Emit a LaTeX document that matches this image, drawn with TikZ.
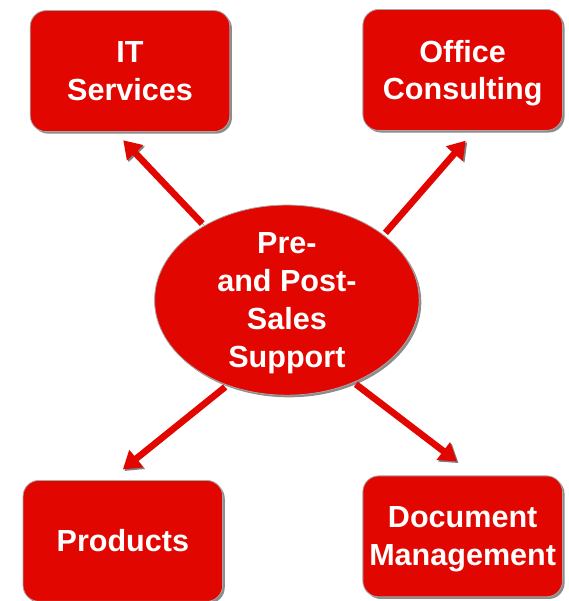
\documentclass[tikz,border=0pt]{standalone}
\usepackage{fontspec}
\setmainfont{Liberation Sans}
\usetikzlibrary{arrows.meta,shapes.geometric,shadows}
\definecolor{signal}{RGB}{225,6,0}
\definecolor{smoke}{RGB}{128,128,128}

\begin{document}
\begin{tikzpicture}[
    blob/.style={fill=signal,draw=smoke!70,line width=0.6pt,text=white,
      font=\fontsize{23}{28.5}\selectfont\bfseries,align=center,inner sep=2pt,
      text depth=-8pt,
      drop shadow={shadow xshift=1.6pt,shadow yshift=-1.6pt,fill=smoke,opacity=0.9}},
    box/.style={blob,rectangle,rounded corners=12pt,minimum width=5.28cm,minimum height=3.2cm},
    hub/.style={blob,ellipse,inner ysep=-10pt,minimum width=7cm,minimum height=5.03cm},
    link/.style={signal,line width=5pt,shorten <=2pt,-{Triangle[length=13pt,width=16pt]},
      preaction={draw=smoke,-{Triangle[length=13pt,width=16pt]},
        transform canvas={xshift=1.2pt,yshift=-1.2pt}}}]
  \useasboundingbox (0,0) rectangle (15.03,-15.9);

  % centre
  \node[hub] (pps) at (7.59,-7.94) {Pre-\\and Post-\\Sales\\Support};

  % four corners
  \foreach \n/\x/\y/\t in {it/3.44/-1.88/IT\\Services,
      office/12.24/-1.85/Office\\Consulting,
      prod/3.25/-14.31/Products,
      doc/12.24/-14.19/Document\\Management}
    \node[box] (\n) at (\x,\y) {\t};

  \draw[link] (pps.138) -- ([shift={(-0.18,-0.22)}]it.south);
  \draw[link] (pps.34) -- ([shift={(0.08,-0.26)}]office.south);
  \draw[link] (pps.235) -- ([shift={(0,0.28)}]prod.north);
  \draw[link] (pps.309) -- ([shift={(-0.15,0.37)}]doc.north);
\end{tikzpicture}
\end{document}
